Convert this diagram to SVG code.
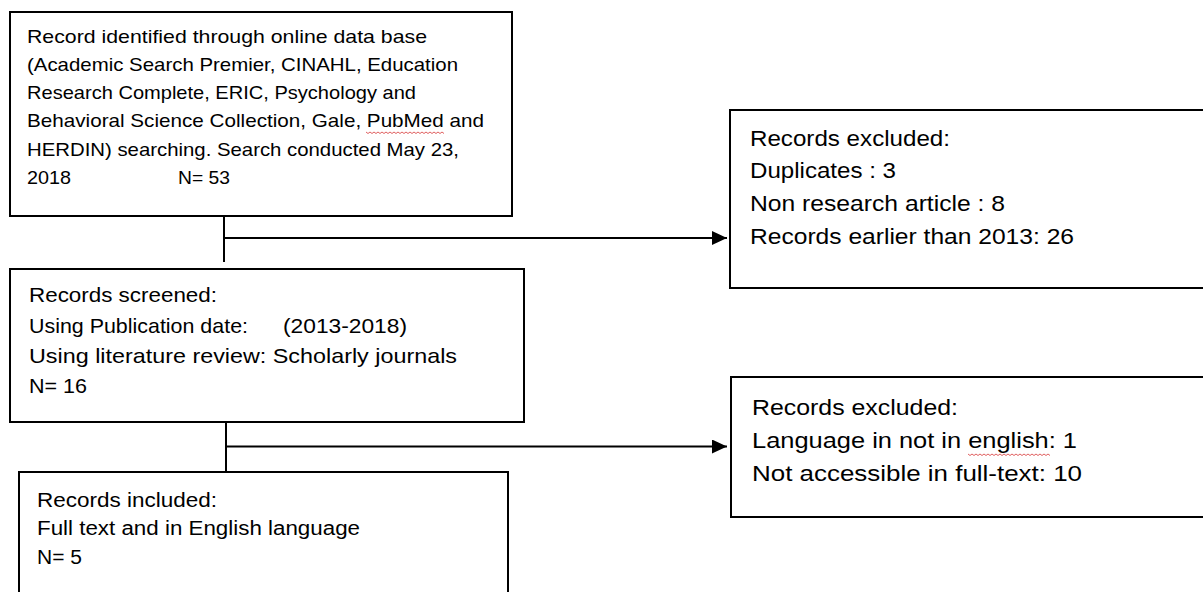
<svg xmlns="http://www.w3.org/2000/svg" width="1203" height="592" viewBox="0 0 1203 592">
  <style>
    .box { fill: #ffffff; stroke: #000000; stroke-width: 2; }
    .conn { fill: none; stroke: #000000; stroke-width: 2; }
    .t { font-family: "Liberation Sans", Arial, sans-serif; fill: #000000; }
    .s1 { font-size: 19px; }
    .s2 { font-size: 21px; }
    .s3 { font-size: 20px; }
    .s4 { font-size: 22.5px; }
    .sq { fill: none; stroke: #e06060; stroke-width: 1; }
  </style>
  <defs>
    <marker id="arrow" markerUnits="userSpaceOnUse" markerWidth="16" markerHeight="14" refX="15" refY="7" orient="auto">
      <path d="M0,0 L15,7 L0,14 Z" fill="#000000"/>
    </marker>
  </defs>
  <rect width="1203" height="592" fill="#ffffff"/>

  <g id="connectors">
    <line class="conn" x1="224" y1="216" x2="224" y2="262"/>
    <line class="conn" x1="224" y1="238" x2="727" y2="238" marker-end="url(#arrow)"/>
    <line class="conn" x1="226" y1="422" x2="226" y2="472"/>
    <line class="conn" x1="226" y1="446.5" x2="727" y2="446.5" marker-end="url(#arrow)"/>
  </g>

  <g id="identified">
    <rect class="box" x="10" y="12" width="502" height="204"/>
    <text class="t s1" x="27" y="43" textLength="400" lengthAdjust="spacingAndGlyphs">Record identified through online data base</text>
    <text class="t s1" x="27" y="71" textLength="431" lengthAdjust="spacingAndGlyphs">(Academic Search Premier, CINAHL, Education</text>
    <text class="t s1" x="27" y="99" textLength="389" lengthAdjust="spacingAndGlyphs">Research Complete, ERIC, Psychology and</text>
    <text class="t s1" x="27" y="127" textLength="457" lengthAdjust="spacingAndGlyphs">Behavioral Science Collection, Gale, PubMed and</text>
    <path class="sq" d="M366,132 l2,1.5 l2,-1.5 l2,1.5 l2,-1.5 l2,1.5 l2,-1.5 l2,1.5 l2,-1.5 l2,1.5 l2,-1.5 l2,1.5 l2,-1.5 l2,1.5 l2,-1.5 l2,1.5 l2,-1.5 l2,1.5 l2,-1.5 l2,1.5 l2,-1.5 l2,1.5 l2,-1.5 l2,1.5 l2,-1.5 l2,1.5 l2,-1.5 l2,1.5 l2,-1.5 l2,1.5 l2,-1.5 l2,1.5 l2,-1.5 l2,1.5 l2,-1.5 l2,1.5 l2,-1.5 l2,1.5 l2,-1.5 l2,1.5"/>
    <text class="t s1" x="27" y="156" textLength="432" lengthAdjust="spacingAndGlyphs">HERDIN) searching. Search conducted May 23,</text>
    <text class="t s1" x="27" y="184" textLength="44" lengthAdjust="spacingAndGlyphs">2018</text>
    <text class="t s1" x="178" y="184" textLength="52" lengthAdjust="spacingAndGlyphs">N= 53</text>
  </g>

  <g id="excluded1">
    <rect class="box" x="730" y="110" width="490" height="178"/>
    <text class="t s4" x="750" y="146" textLength="200" lengthAdjust="spacingAndGlyphs">Records excluded:</text>
    <text class="t s4" x="750" y="178" textLength="146" lengthAdjust="spacingAndGlyphs">Duplicates : 3</text>
    <text class="t s4" x="750" y="211" textLength="255" lengthAdjust="spacingAndGlyphs">Non research article : 8</text>
    <text class="t s4" x="750" y="244" textLength="324" lengthAdjust="spacingAndGlyphs">Records earlier than 2013: 26</text>
  </g>

  <g id="screened">
    <rect class="box" x="10" y="269" width="514" height="153"/>
    <text class="t s2" x="29" y="302" textLength="188" lengthAdjust="spacingAndGlyphs">Records screened:</text>
    <text class="t s2" x="29" y="333" textLength="219" lengthAdjust="spacingAndGlyphs">Using Publication date:</text>
    <text class="t s2" x="283" y="333" textLength="124" lengthAdjust="spacingAndGlyphs">(2013-2018)</text>
    <text class="t s2" x="29" y="363" textLength="428" lengthAdjust="spacingAndGlyphs">Using literature review: Scholarly journals</text>
    <text class="t s2" x="29" y="393" textLength="58" lengthAdjust="spacingAndGlyphs">N= 16</text>
  </g>

  <g id="excluded2">
    <rect class="box" x="731" y="377" width="490" height="140"/>
    <text class="t s4" x="752" y="415" textLength="206" lengthAdjust="spacingAndGlyphs">Records excluded:</text>
    <text class="t s4" x="752" y="448" textLength="325" lengthAdjust="spacingAndGlyphs">Language in not in english: 1</text>
    <path class="sq" d="M968,454 l2,1.5 l2,-1.5 l2,1.5 l2,-1.5 l2,1.5 l2,-1.5 l2,1.5 l2,-1.5 l2,1.5 l2,-1.5 l2,1.5 l2,-1.5 l2,1.5 l2,-1.5 l2,1.5 l2,-1.5 l2,1.5 l2,-1.5 l2,1.5 l2,-1.5 l2,1.5 l2,-1.5 l2,1.5 l2,-1.5 l2,1.5 l2,-1.5 l2,1.5 l2,-1.5 l2,1.5 l2,-1.5 l2,1.5 l2,-1.5 l2,1.5 l2,-1.5 l2,1.5 l2,-1.5 l2,1.5 l2,-1.5 l2,1.5 l2,-1.5 l2,1.5"/>
    <text class="t s4" x="752" y="481" textLength="330" lengthAdjust="spacingAndGlyphs">Not accessible in full-text: 10</text>
  </g>

  <g id="included">
    <rect class="box" x="19" y="472" width="489" height="140"/>
    <text class="t s3" x="37" y="507" textLength="180" lengthAdjust="spacingAndGlyphs">Records included:</text>
    <text class="t s3" x="37" y="535" textLength="323" lengthAdjust="spacingAndGlyphs">Full text and in English language</text>
    <text class="t s3" x="37" y="564" textLength="45" lengthAdjust="spacingAndGlyphs">N= 5</text>
  </g>
</svg>
